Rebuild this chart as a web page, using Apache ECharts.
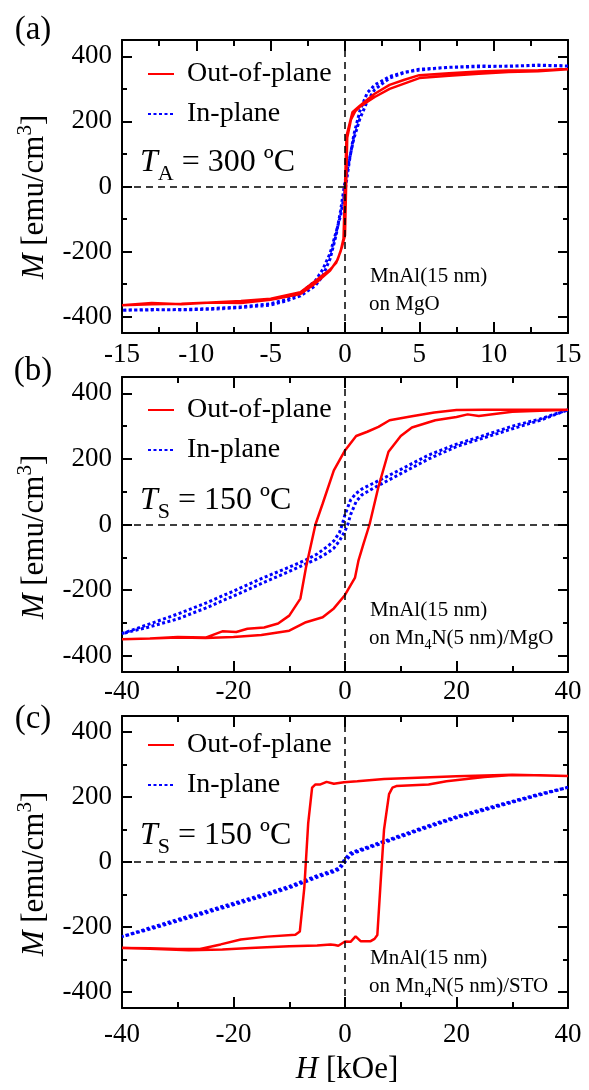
<!DOCTYPE html>
<html>
<head>
<meta charset="utf-8">
<title>MnAl M-H loops</title>
<script src="https://cdn.jsdelivr.net/npm/echarts@6/dist/echarts.min.js"></script>
<style>
  html, body { margin: 0; padding: 0; background: #fff; }
  #chart { width: 589px; height: 1090px; }
</style>
</head>
<body>
<div id="chart"></div>
<script>
const FONT = '"Liberation Serif", "Times New Roman", serif';

// (a) MnAl(15 nm) on MgO, T_A = 300 C   (H in kOe, M in emu/cm3)
const aOopDownH = [15, 13, 11, 9, 7, 5, 4, 3, 2, 1, 0.5, 0.1, -0.1, -0.3, -0.6, -1, -2, -3, -5, -7, -9, -11, -13, -15];
const aOopDownM = [360, 357, 356, 353, 348, 342, 328, 312, 285, 248, 228, 155, -160, -200, -235, -255, -290, -325, -345, -352, -356, -360, -362, -365];
const aOopUpH = [-15, -13, -11, -9, -7, -5, -3, -2, -1, -0.5, -0.2, 0, 0.15, 0.4, 0.7, 1, 2, 3, 5, 7, 9, 11, 13, 15];
const aOopUpM = [-365, -358, -362, -356, -358, -348, -330, -298, -258, -225, -185, -150, 150, 205, 232, 245, 275, 300, 333, 340, 346, 352, 354, 360];
const aIpDownH = [15, 13, 11, 9, 7, 5, 4, 3, 2, 1.5, 1, 0.6, 0.3, 0, -0.3, -0.6, -1, -1.5, -2, -3, -4, -5, -7, -9, -11, -13, -15];
const aIpDownM = [370, 373, 369, 370, 366, 360, 351, 338, 312, 288, 232, 160, 80, -15, -90, -140, -205, -255, -290, -328, -348, -360, -370, -375, -378, -379, -380];
const aIpUpH = [-15, -13, -11, -9, -7, -5, -4, -3, -2, -1.5, -1, -0.6, -0.3, 0, 0.3, 0.6, 1, 1.5, 2, 3, 4, 5, 7, 9, 11, 13, 15];
const aIpUpM = [-380, -378, -379, -377, -372, -364, -352, -336, -305, -275, -222, -150, -75, 15, 85, 148, 208, 262, 298, 333, 350, 358, 366, 368, 370, 372, 370];

// (b) MnAl(15 nm) on Mn4N(5 nm)/MgO, T_S = 150 C
const bOopDownH = [40, 35, 30, 25, 20, 16, 12, 10, 8, 6, 4, 2, 0, -2, -4, -5.3, -7, -8, -10, -12, -14.5, -17.5, -19.5, -22, -25, -30, -35, -40];
const bOopDownM = [350, 350, 350, 350, 349, 342, 330, 324, 318, 298, 283, 270, 226, 165, 64, 0, -131, -226, -278, -302, -314, -318, -328, -326, -345, -343, -348, -350];
const bOopUpH = [-40, -35, -30, -25, -20, -15, -10, -7, -4, -2, 0, 1.8, 2.4, 3.3, 4.4, 6, 7.8, 10, 12, 16.2, 20, 22, 24, 30, 35, 40];
const bOopUpM = [-350, -348, -345, -346, -343, -337, -324, -298, -283, -256, -215, -162, -111, -60, 0, 115, 222, 270, 296, 318, 328, 336, 331, 344, 347, 350];
const bIpDownH = [40, 35, 30, 25, 20, 15, 10, 7, 5, 3, 2, 1, 0, -0.5, -1, -2, -3, -5, -7, -10, -15, -20, -25, -30, -35, -40];
const bIpDownM = [350, 322, 300, 272, 245, 212, 168, 142, 125, 108, 95, 75, 30, 0, -25, -50, -65, -90, -108, -130, -165, -203, -240, -273, -303, -333];
const bIpUpH = [-40, -35, -30, -25, -20, -15, -10, -7, -5, -3, -2, -1, 0, 0.5, 1, 2, 3, 5, 7, 10, 15, 20, 25, 30, 35, 40];
const bIpUpM = [-333, -312, -288, -255, -218, -180, -143, -120, -105, -85, -72, -50, -20, 0, 30, 70, 90, 110, 128, 155, 200, 238, 265, 292, 318, 350];

// (c) MnAl(15 nm) on Mn4N(5 nm)/STO, T_S = 150 C
const cOopDownH = [40, 30, 20, 13, 7, 2.2, -0.2, -2, -3.3, -4.4, -5.3, -5.9, -6.6, -7.3, -8.1, -8.9, -14, -18.7, -22.3, -26, -30, -35, -40];
const cOopDownM = [265, 269, 264, 260, 256, 249, 246, 241, 247, 239, 239, 229, 120, -80, -214, -224, -230, -239, -254, -268, -268, -266, -265];
const cOopUpH = [-40, -35, -28, -22, -17, -10, -5, -2.6, -1.8, -1.2, 0, 1, 1.9, 2.8, 4.6, 5.3, 5.8, 6.4, 7, 7.9, 8.5, 9.2, 15, 18.2, 25, 30, 35, 40];
const cOopUpM = [-265, -267, -272, -270, -265, -260, -257, -254, -256, -258, -245, -246, -229, -244, -244, -237, -225, -60, 100, 209, 229, 234, 239, 249, 262, 268, 267, 265];
const cIpDownH = [40, 35, 30, 25, 20, 15, 10, 5, 2, 1, 0, -1, -2, -5, -10, -15, -20, -25, -30, -35, -40];
const cIpDownM = [230, 210, 187, 164, 140, 112, 82, 52, 34, 28, 10, -18, -25, -42, -75, -102, -127, -152, -177, -203, -230];
const cIpUpH = [-40, -35, -30, -25, -20, -15, -10, -5, -2, -1, 0, 1, 2, 5, 10, 15, 20, 25, 30, 35, 40];
const cIpUpM = [-230, -207, -182, -157, -132, -107, -80, -47, -30, -22, 0, 22, 30, 48, 78, 108, 136, 160, 184, 207, 230];

// axes
const xRanges = [[-15, 15, 5], [-40, 40, 20], [-40, 40, 20]];
const yMajorTicks = [-400, -200, 0, 200, 400];
const yMinorTicks = [-300, -100, 100, 300];
const panelLabels = ['(a)', '(b)', '(c)'];
const tempLabels = ['{it|T}{sub|A} = 300 ºC', '{it|T}{sub|S} = 150 ºC', '{it|T}{sub|S} = 150 ºC'];
const sampleLine1 = ['MnAl(15 nm)', 'MnAl(15 nm)', 'MnAl(15 nm)'];
const sampleLine2 = ['on MgO', 'on Mn{sub|4}N(5 nm)/MgO', 'on Mn{sub|4}N(5 nm)/STO'];

function pairs(h, m) {
    return h.map((v, i) => [v, m[i]]);
}

const loops = [
    {oop: pairs(aOopDownH.concat(aOopUpH), aOopDownM.concat(aOopUpM)),
     ip: pairs(aIpDownH.concat(aIpUpH), aIpDownM.concat(aIpUpM))},
    {oop: pairs(bOopDownH.concat(bOopUpH), bOopDownM.concat(bOopUpM)),
     ip: pairs(bIpDownH.concat(bIpUpH), bIpDownM.concat(bIpUpM))},
    {oop: pairs(cOopDownH.concat(cOopUpH), cOopDownM.concat(cOopUpM)),
     ip: pairs(cIpDownH.concat(cIpUpH), cIpDownM.concat(cIpUpM))}
];

// layout of the three panels
const grids = [
    {left: 122, right: 21, top: 40, height: 293},
    {left: 122, right: 21, top: 377, height: 295},
    {left: 122, right: 21, top: 716, height: 292}
];
const xLabelMargin = [8, 6, 13];
const legendTop = [55, 391, 726];
const tempY = [163, 501, 836];
const sampleY = [276, 610, 958];
const yTitleY = [197, 537, 874];
const panelLabelY = [30, 371, 719];

const black = {color: '#000', width: 2};
let xAxis = [], yAxis = [], series = [], legend = [], graphic = [];

grids.forEach((g, i) => {
    const [xmin, xmax, step] = xRanges[i];
    ['bottom', 'top'].forEach(pos => {
        xAxis.push({
            gridIndex: i, type: 'value', position: pos,
            min: xmin, max: xmax, interval: step,
            axisLine: {onZero: false, lineStyle: black},
            axisTick: {inside: true, length: 11, lineStyle: black},
            minorTick: {show: true, splitNumber: 2, length: 6, lineStyle: black},
            splitLine: {show: false},
            axisLabel: {
                show: pos === 'bottom', margin: xLabelMargin[i],
                fontFamily: FONT, fontSize: 27, color: '#000'
            }
        });
    });
    ['left', 'right'].forEach(pos => {
        yAxis.push({
            gridIndex: i, type: 'value', position: pos, min: -450, max: 450,
            axisLine: {onZero: false, lineStyle: black},
            axisTick: {inside: true, length: 10, lineStyle: black, customValues: yMajorTicks},
            splitLine: {show: false},
            axisLabel: {
                show: pos === 'left', margin: 10, customValues: yMajorTicks,
                fontFamily: FONT, fontSize: 27, color: '#000'
            }
        });
        yAxis.push({
            gridIndex: i, type: 'value', position: pos, min: -450, max: 450,
            axisLine: {show: false, onZero: false},
            axisTick: {inside: true, length: 5, lineStyle: black, customValues: yMinorTicks},
            splitLine: {show: false},
            axisLabel: {show: false}
        });
    });

    // dashed zero lines
    series.push({
        name: 'zero' + i, type: 'line', xAxisIndex: i * 2, yAxisIndex: i * 4,
        data: [], silent: true, z: 1,
        markLine: {
            silent: true, symbol: 'none', label: {show: false},
            lineStyle: {color: '#000', width: 1.5, type: [7, 5]},
            data: [{yAxis: 0}, {xAxis: 0}]
        }
    });
    series.push({
        name: 'Out-of-plane', type: 'line', xAxisIndex: i * 2, yAxisIndex: i * 4,
        data: loops[i].oop, symbol: 'none', showSymbol: false, z: 3,
        lineStyle: {color: '#ff0000', width: 2.5}, itemStyle: {color: '#ff0000'}
    });
    series.push({
        name: 'In-plane', type: 'line', xAxisIndex: i * 2, yAxisIndex: i * 4,
        data: loops[i].ip, symbol: 'none', showSymbol: false, z: 2,
        lineStyle: {color: '#0000ff', width: 3, type: [3, 2.5]}, itemStyle: {color: '#0000ff'}
    });

    legend.push({
        data: ['Out-of-plane', 'In-plane'], orient: 'vertical',
        left: 142, top: legendTop[i], itemWidth: 26, itemHeight: 14, itemGap: 12,
        selectedMode: false,
        itemStyle: {opacity: 0},
        textStyle: {fontFamily: FONT, fontSize: 28, color: '#000', padding: [0, 0, 0, 8]}
    });

    graphic.push({
        type: 'text', x: 33, y: panelLabelY[i],
        style: {text: panelLabels[i], font: '33px ' + FONT, fill: '#000',
                textAlign: 'center', textVerticalAlign: 'middle'}
    });
    graphic.push({
        type: 'text', x: 140, y: tempY[i],
        style: {
            text: tempLabels[i], font: '32px ' + FONT, fill: '#000',
            textAlign: 'left', textVerticalAlign: 'middle',
            rich: {
                it: {fontStyle: 'italic', fontSize: 32, fontFamily: FONT, lineHeight: 44},
                sub: {fontSize: 22, fontFamily: FONT, verticalAlign: 'bottom', lineHeight: 22}
            }
        }
    });
    graphic.push({
        type: 'text', x: 370, y: sampleY[i],
        style: {text: sampleLine1[i], font: '21px ' + FONT, fill: '#000',
                textAlign: 'left', textVerticalAlign: 'middle'}
    });
    graphic.push({
        type: 'text', x: 369, y: sampleY[i] + 28,
        style: {
            text: sampleLine2[i], font: '21px ' + FONT, fill: '#000',
            lineHeight: 28,
            textAlign: 'left', textVerticalAlign: 'middle',
            rich: {
                sub: {fontSize: 14, fontFamily: FONT, verticalAlign: 'bottom', lineHeight: 14}
            }
        }
    });
    graphic.push({
        type: 'text', x: 35, y: yTitleY[i], rotation: Math.PI / 2,
        style: {
            text: '{it|M} [emu/cm{sup|3}]', font: '31px ' + FONT, fill: '#000',
            textAlign: 'center', textVerticalAlign: 'middle',
            rich: {
                it: {fontStyle: 'italic', fontSize: 31, fontFamily: FONT, lineHeight: 40},
                sup: {fontSize: 21, fontFamily: FONT, verticalAlign: 'top', lineHeight: 21}
            }
        }
    });
});

graphic.push({
    type: 'text', x: 347, y: 1070,
    style: {
        text: '{it|H} [kOe]', font: '31px ' + FONT, fill: '#000',
        textAlign: 'center', textVerticalAlign: 'middle',
        rich: {it: {fontStyle: 'italic', fontSize: 31, fontFamily: FONT}}
    }
});

const chart = echarts.init(document.getElementById('chart'));
chart.setOption({
    animation: false,
    backgroundColor: '#fff',
    grid: grids,
    xAxis: xAxis,
    yAxis: yAxis,
    legend: legend,
    graphic: graphic,
    series: series
});
</script>
</body>
</html>
